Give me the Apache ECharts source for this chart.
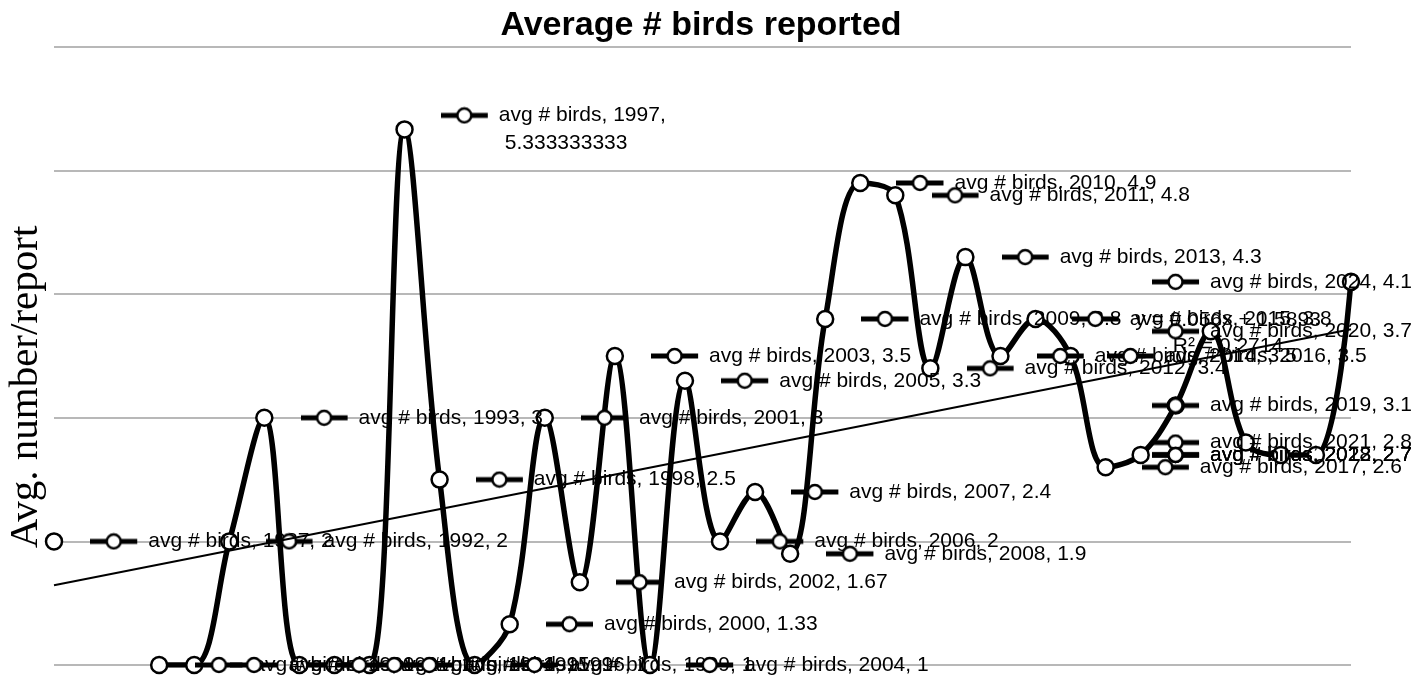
<!DOCTYPE html>
<html lang="en" style="height: 100%">
<head>
  <meta charset="utf-8">
</head>
<body style="height: 100%; margin: 0; background: #fff">
  <div id="container" style="width: 1426px; height: 683px"></div>

  <script type="text/javascript" src="https://cdn.jsdelivr.net/npm/echarts@6/dist/echarts.min.js"></script>
  <script type="text/javascript">
    // categories (years) and the series values
    var years = ['1987', '1988', '1989', '1990', '1991', '1992', '1993', '1994', '1995', '1996',
      '1997', '1998', '1999', '2000', '2001', '2002', '2003', '2004', '2005', '2006',
      '2007', '2008', '2009', '2010', '2011', '2012', '2013', '2014', '2015', '2016',
      '2017', '2018', '2019', '2020', '2021', '2022', '2023', '2024'];
    var avgBirds = [2, null, null, 1, 1, 2, 3, 1, 1, 1,
      5.333333333, 2.5, 1, 1.33, 3, 1.67, 3.5, 1, 3.3, 2,
      2.4, 1.9, 3.8, 4.9, 4.8, 3.4, 4.3, 3.5, 3.8, 3.5,
      2.6, 2.7, 3.1, 3.7, 2.8, 2.7, 2.7, 4.1];
    // linear trendline ends (first and last year)
    var trendEnds = [1.645, 3.717];
    var trendText = ['y = 0.056x + 1.5893', 'R² = 0.2714'];

    var dom = document.getElementById('container');
    var myChart = echarts.init(dom, null, { renderer: 'canvas' });

    // legend key drawn inside each data label (thick line + open circle)
    var key = document.createElement('canvas');
    key.width = 58;
    key.height = 18;
    var ctx = key.getContext('2d');
    ctx.strokeStyle = '#000';
    ctx.lineWidth = 5;
    ctx.beginPath();
    ctx.moveTo(0, 9);
    ctx.lineTo(47, 9);
    ctx.stroke();
    ctx.beginPath();
    ctx.arc(23.5, 9, 7, 0, Math.PI * 2);
    ctx.fillStyle = '#fff';
    ctx.fill();
    ctx.lineWidth = 2.5;
    ctx.stroke();

    var font = '"Liberation Sans", Arial, sans-serif';

    var option = {
      backgroundColor: '#fff',
      animation: false,
      grid: { left: 54, right: 75, top: 47, bottom: 18 },
      xAxis: {
        type: 'category',
        data: years,
        boundaryGap: false,
        axisLine: { show: false },
        axisTick: { show: false },
        axisLabel: { show: false }
      },
      yAxis: {
        type: 'value',
        min: 1,
        max: 6,
        interval: 1,
        axisLine: { show: false },
        axisTick: { show: false },
        axisLabel: { show: false },
        splitLine: { lineStyle: { color: '#b8b8b8', width: 2 } }
      },
      graphic: [
        {
          type: 'text', x: 701, y: 26,
          style: {
            text: 'Average # birds reported', align: 'center', verticalAlign: 'middle',
            font: 'bold 34px ' + font, fill: '#000'
          }
        },
        {
          type: 'text', x: 26, y: 387, rotation: Math.PI / 2,
          style: {
            text: 'Avg. number/report', align: 'center', verticalAlign: 'middle',
            font: '41px "Liberation Serif", "Times New Roman", serif', fill: '#000'
          }
        },
        {
          type: 'text', x: 1228, y: 333, z: 100,
          style: {
            text: trendText.join('\n'), align: 'center', verticalAlign: 'middle',
            font: '21px ' + font, fill: '#000', lineHeight: 26
          }
        }
      ],
      series: [
        {
          name: 'avg # birds',
          type: 'line',
          data: avgBirds,
          smooth: 0.35,
          connectNulls: false,
          showAllSymbol: true,
          symbol: 'circle',
          symbolSize: 16,
          itemStyle: { color: '#fff', borderColor: '#000', borderWidth: 2.5 },
          lineStyle: { color: '#000', width: 5.5 },
          z: 3,
          label: {
            show: true,
            position: 'right',
            distance: 27,
            formatter: function (p) {
              var v = String(p.value);
              if (v.length > 6) {
                return '{k|}{t|avg # birds, ' + p.name + ',}\n{sp|}{t|' + v + '}';
              }
              return '{k|}{t|avg # birds, ' + p.name + ', ' + v + '}';
            },
            rich: {
              k: { width: 58, height: 18, backgroundColor: { image: key } },
              sp: { width: 64, height: 18 },
              t: { fontFamily: font, fontSize: 21, color: '#000', lineHeight: 28 }
            }
          },
          labelLayout: function (p) {
            var over = p.labelRect.x + p.labelRect.width - 1412;
            return over > 0 ? { dx: -over } : {};
          },
          markLine: {
            silent: true,
            symbol: 'none',
            label: { show: false },
            lineStyle: { color: '#000', width: 2, type: 'solid' },
            data: [[
              { coord: [years[0], trendEnds[0]] },
              { coord: [years[years.length - 1], trendEnds[1]] }
            ]]
          }
        }
      ]
    };

    myChart.setOption(option);
    window.addEventListener('resize', myChart.resize);
  </script>
</body>
</html>
